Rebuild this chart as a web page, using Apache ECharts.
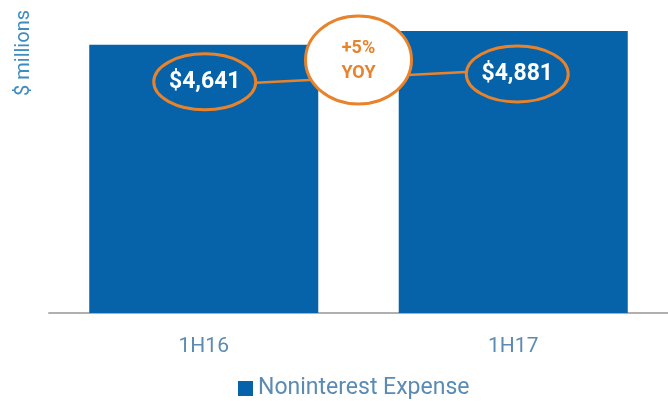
<!DOCTYPE html>
<html><head><meta charset="utf-8">
<script src="https://cdn.jsdelivr.net/npm/echarts@6/dist/echarts.min.js"></script>
<style>html,body{margin:0;padding:0;background:#fff}#c{width:668px;height:401px}</style>
</head><body><div id="c"></div>
<script>
const categories = ['1H16', '1H17'];
const values = [4641, 4881];
const seriesName = 'Noninterest Expense';
const axisTitle = '$ millions';

const BLUE = '#0663a9', ORANGE = '#e8832b', LABEL = '#5b8bb3';
const chart = echarts.init(document.getElementById('c'), null, {renderer: 'canvas'});
const option = {
  animation: false,
  grid: {left: 49, right: 0, top: 31, bottom: 88},
  legend: {
    data: [seriesName], left: 233, top: 372, icon: 'rect',
    itemWidth: 15, itemHeight: 15, itemGap: 6,
    textStyle: {color: LABEL, fontSize: 23, fontFamily: 'Roboto'}
  },
  xAxis: {
    type: 'category', data: categories,
    axisLine: {lineStyle: {color: '#b0b0b0', width: 2}},
    axisTick: {show: false},
    axisLabel: {color: LABEL, fontSize: 21, fontFamily: 'Roboto', margin: 23}
  },
  yAxis: {
    type: 'value', min: 0, max: 4881,
    axisLabel: {show: false}, splitLine: {show: false},
    axisLine: {show: false}, axisTick: {show: false}
  },
  series: [{
    name: seriesName, type: 'bar', data: values, barWidth: '74%',
    itemStyle: {color: BLUE}
  }]
};
chart.setOption(option);

const pts = values.map((v, i) => chart.convertToPixel({xAxisIndex: 0, yAxisIndex: 0}, [i, v]));
const fmt = v => '$' + v.toLocaleString('en-US');
const pct = Math.round((values[1] / values[0] - 1) * 100);
const c0 = [pts[0][0] + 1, pts[0][1] + 37];
const c1 = [pts[1][0] + 4, pts[1][1] + 43];
const cm = [(pts[0][0] + pts[1][0]) / 2, 60];
const rx = 51, ry = 28;

const graphics = [
  {type: 'text', left: 14, top: 10, rotation: Math.PI / 2, originX: 0, originY: 0,
   style: {text: axisTitle, fill: '#3f8cc0', font: '20px Roboto'}},
  {type: 'line', z: 10, shape: {x1: c0[0] + rx, y1: c0[1] + 1, x2: c1[0] - rx, y2: c1[1] - 2},
   style: {stroke: ORANGE, lineWidth: 2.5}},
  {type: 'ellipse', z: 10, shape: {cx: c0[0], cy: c0[1], rx: rx, ry: ry},
   style: {fill: 'none', stroke: ORANGE, lineWidth: 3}},
  {type: 'ellipse', z: 10, shape: {cx: c1[0], cy: c1[1], rx: rx, ry: ry},
   style: {fill: 'none', stroke: ORANGE, lineWidth: 3}},
  {type: 'ellipse', z: 11, shape: {cx: cm[0], cy: cm[1], rx: 53, ry: 44},
   style: {fill: '#fff', stroke: ORANGE, lineWidth: 3}},
  {type: 'text', z: 12, x: c0[0], y: c0[1],
   style: {text: fmt(values[0]), fill: '#fff', font: 'bold 23px Roboto', textAlign: 'center', textVerticalAlign: 'middle'}},
  {type: 'text', z: 12, x: c1[0], y: c1[1],
   style: {text: fmt(values[1]), fill: '#fff', font: 'bold 23px Roboto', textAlign: 'center', textVerticalAlign: 'middle'}},
  {type: 'text', z: 12, x: cm[0], y: cm[1] - 12,
   style: {text: '+' + pct + '%', fill: ORANGE, font: 'bold 18px Roboto', textAlign: 'center', textVerticalAlign: 'middle'}},
  {type: 'text', z: 12, x: cm[0], y: cm[1] + 13,
   style: {text: 'YOY', fill: ORANGE, font: 'bold 18px Roboto', textAlign: 'center', textVerticalAlign: 'middle'}}
];
chart.setOption({graphic: graphics});
</script></body></html>
